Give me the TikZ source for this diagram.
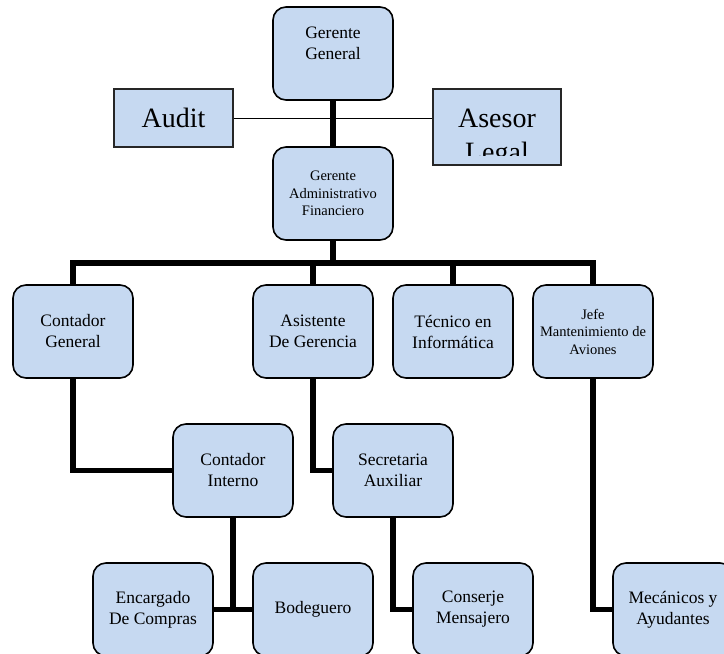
\documentclass[tikz,border=0pt]{standalone}
\usepackage{fontspec}
\setmainfont{Liberation Serif}
\usetikzlibrary{backgrounds}
\definecolor{boxblue}{HTML}{C6D9F1}
\tikzset{
	puesto/.style={draw=black,line width=1.6pt,fill=boxblue,rounded corners=13pt,minimum width=120pt,minimum height=93pt,inner sep=0,outer sep=0,align=center,font=\fontsize{17.5}{21}\selectfont},
	chico/.style={font=\fontsize{14.5}{17.5}\selectfont},
	asesor/.style={draw=black!85,line width=1.6pt,fill=boxblue,inner sep=0,outer sep=0,align=center,font=\fontsize{28}{34}\selectfont},
	rama/.style={line width=5.5pt},
	fina/.style={line width=1pt}
}
\begin{document}
\begin{tikzpicture}[x=1pt,y=-1pt]
	\useasboundingbox (0,0) rectangle (724,654);
	\node[puesto] (gg) at (333,53.5) {};
	\node[align=center,font=\fontsize{17.5}{21}\selectfont] (ggtxt) at (333,43) {Gerente\\General};
	\node[asesor,minimum width=119pt,minimum height=58pt] (audit) at (173.5,118) {Audit};
	\node[asesor,minimum width=128pt,minimum height=76pt] (legal) at (497,127) {};
	\begin{scope}
		\clip (436,92) rectangle (558,155);
		\node[align=center,font=\fontsize{28}{34}\selectfont,anchor=north] (legaltxt) at (497,105) {Asesor\\Legal};
	\end{scope}
	\node[puesto,chico] (gaf) at (333,193.5) {Gerente\\Administrativo\\Financiero};
	\node[puesto] (cg) at (73,331.5) {Contador\\General};
	\node[puesto] (ag) at (313,331.5) {Asistente\\De Gerencia};
	\node[puesto] (ti) at (453,331.5) {Técnico en\\Informática};
	\node[puesto,chico] (jm) at (593,331.5) {Jefe\\Mantenimiento de\\Aviones};
	\node[puesto] (ci) at (233,470.5) {Contador\\Interno};
	\node[puesto] (sa) at (393,470.5) {Secretaria\\Auxiliar};
	\node[puesto] (ec) at (153,609.5) {Encargado\\De Compras};
	\node[puesto] (bo) at (313,609.5) {Bodeguero};
	\node[puesto] (cm) at (473,609.5) {Conserje\\Mensajero};
	\node[puesto] (ma) at (673,609.5) {Mecánicos y\\Ayudantes};
	\coordinate (bus) at (333,263);
	\begin{scope}[on background layer]
		\draw[fina] (audit.east) -- (audit.east -| legal.west);
		\draw[rama] (gg.south) -- (gaf.north);
		\draw[rama] (gaf.south) -- (bus);
		\draw[rama] (cg.north) |- (bus) -| (jm.north);
		\draw[rama] (ag.north) -- (ag.north |- bus);
		\draw[rama] (ti.north) -- (ti.north |- bus);
		\draw[rama] (cg.south) |- (ci.west);
		\draw[rama] (ag.south) |- (sa.west);
		\draw[rama] (ci.south) -- (ci.south |- bo.west);
		\draw[rama] (ec.east) -- (bo.west);
		\draw[rama] (sa.south) |- (cm.west);
		\draw[rama] (jm.south) |- (ma.west);
	\end{scope}
\end{tikzpicture}
\end{document}
